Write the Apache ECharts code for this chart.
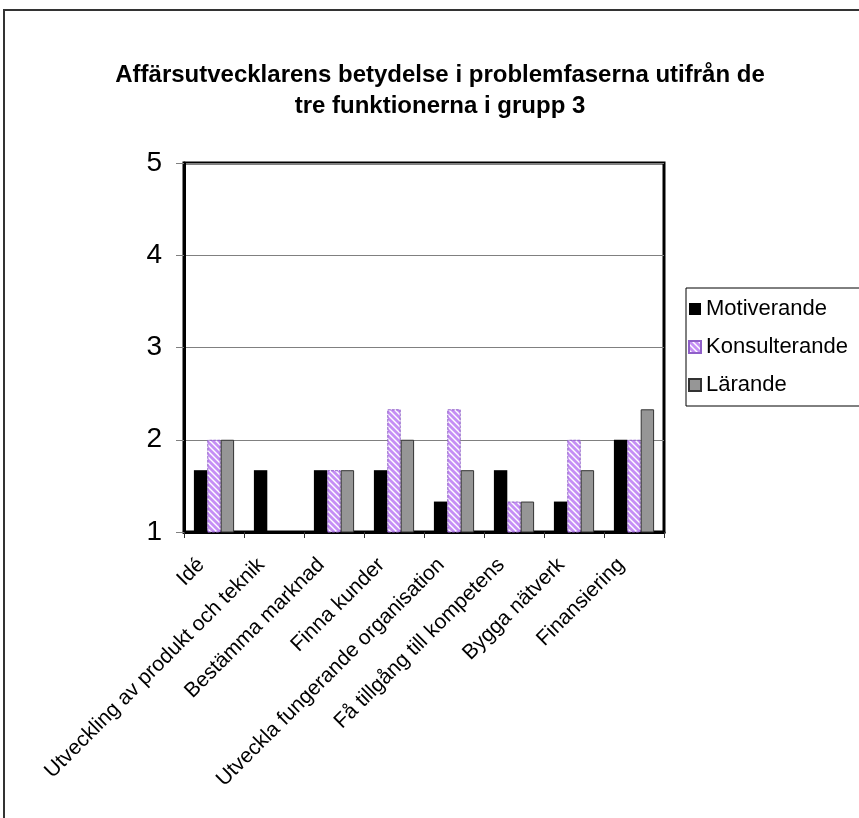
<!DOCTYPE html>
<html>
<head>
<meta charset="utf-8">
<script src="https://cdn.jsdelivr.net/npm/echarts@6/dist/echarts.min.js"></script>
<style>html,body{margin:0;padding:0;background:#fff;}#c{width:859px;height:818px;}</style>
</head>
<body>
<div id="c"></div>
<script>
const categories = ["Idé", "Utveckling av produkt och teknik", "Bestämma marknad", "Finna kunder", "Utveckla fungerande organisation", "Få tillgång till kompetens", "Bygga nätverk", "Finansiering"];
const motiverande = [1.67, 1.67, 1.67, 1.67, 1.33, 1.67, 1.33, 2];
const konsulterande = [2, 1, 1.67, 2.33, 2.33, 1.33, 2, 2];
const larande = [2, 1, 1.67, 2, 1.67, 1.33, 1.67, 2.33];
const seriesNames = ["Motiverande", "Konsulterande", "Lärande"];
const yTicks = [1, 2, 3, 4, 5];
const titleText = "Affärsutvecklarens betydelse i problemfaserna utifrån de\ntre funktionerna i grupp 3";

const pc = document.createElement('canvas');
pc.width = 6; pc.height = 6;
const g = pc.getContext('2d');
g.fillStyle = '#ffffff'; g.fillRect(0, 0, 6, 6);
g.strokeStyle = '#c58ff5'; g.lineWidth = 2.8;
for (let k = -6; k <= 12; k += 6) {
  g.beginPath(); g.moveTo(k - 3, -3); g.lineTo(k + 9, 9); g.stroke();
}
const hatch = { image: pc, repeat: 'repeat' };

const chart = echarts.init(document.getElementById('c'), null, { renderer: 'canvas' });
const font = 'Arial, "Liberation Sans", sans-serif';
chart.setOption({
  backgroundColor: '#fff',
  animation: false,
  graphic: [
    { type: 'rect', shape: { x: 4, y: 10, width: 900, height: 900 }, style: { fill: 'none', stroke: '#333', lineWidth: 2 }, z: 0 },
    { type: 'text', x: 440, y: 60, style: { text: titleText, textAlign: 'center', font: 'bold 24px ' + font, lineHeight: 31, fill: '#000' } }
  ],
  legend: {
    orient: 'vertical', left: 686, top: 288, data: seriesNames,
    icon: 'rect', itemWidth: 12, itemHeight: 12, itemGap: 16,
    padding: [10, 30, 10, 2],
    borderColor: '#000', borderWidth: 1,
    textStyle: { fontSize: 22, fontFamily: font, color: '#000', padding: [0, 0, 0, 0] }
  },
  grid: { left: 184, right: 195, top: 163, bottom: 286, show: true, borderColor: '#000', borderWidth: 3, containLabel: false },
  xAxis: {
    type: 'category', data: categories,
    axisLine: { lineStyle: { color: '#000', width: 3 } },
    axisTick: { show: true, length: 6, lineStyle: { color: '#333' } },
    axisLabel: { rotate: 45, interval: 0, fontSize: 21, fontFamily: font, color: '#000', margin: 17, padding: [0, 18, 0, 0] }
  },
  yAxis: {
    type: 'value', min: yTicks[0], max: yTicks[yTicks.length - 1], interval: 1,
    axisLine: { show: true, lineStyle: { color: '#000', width: 3 } },
    axisTick: { show: true, length: 8, lineStyle: { color: '#808080' } },
    axisLabel: { fontSize: 28, fontFamily: font, color: '#000', margin: 22 },
    splitLine: { lineStyle: { color: '#808080', width: 1 } }
  },
  series: [
    { name: seriesNames[0], type: 'bar', data: motiverande, barGap: '0%', barCategoryGap: '33%', itemStyle: { color: '#000' } },
    { name: seriesNames[1], type: 'bar', data: konsulterande, itemStyle: { color: hatch, borderColor: '#8f5fc8', borderWidth: 1, borderType: [3, 1] } },
    { name: seriesNames[2], type: 'bar', data: larande, itemStyle: { color: '#969696', borderColor: '#333', borderWidth: 1 } }
  ]
});
</script>
</body>
</html>
